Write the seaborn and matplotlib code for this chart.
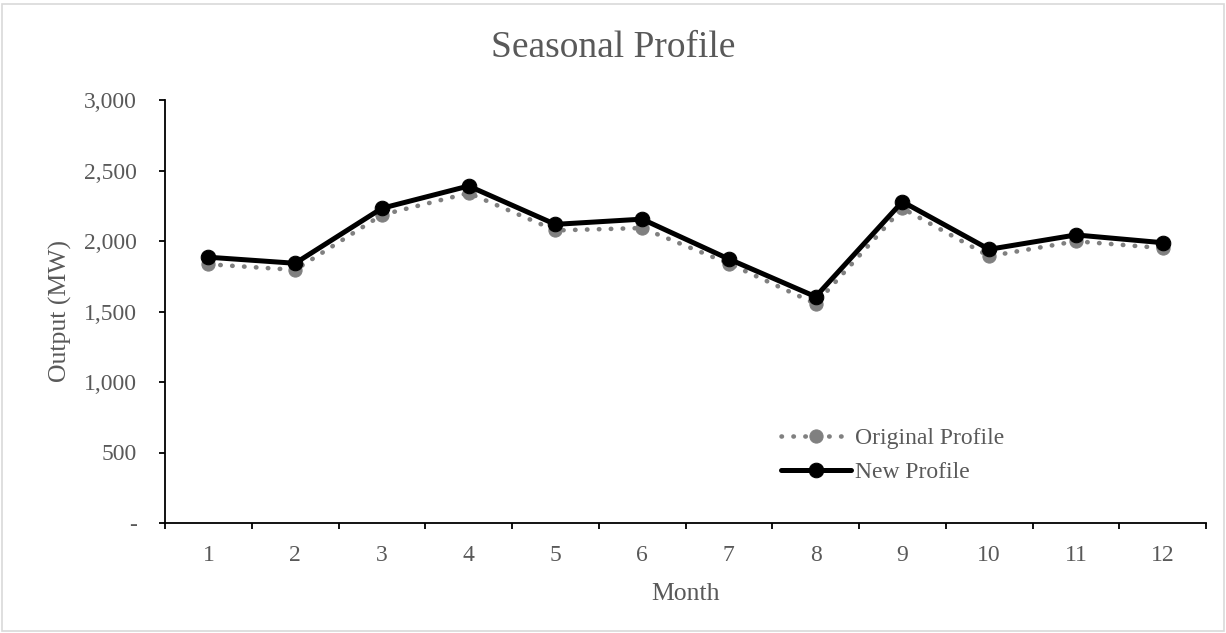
import matplotlib
matplotlib.use("Agg")
import matplotlib.pyplot as plt
import seaborn as sns
import numpy as np
from matplotlib.ticker import FuncFormatter, FixedLocator
from matplotlib.patches import Rectangle

months = [1, 2, 3, 4, 5, 6, 7, 8, 9, 10, 11, 12]
original_profile = [1835, 1795, 2185, 2340, 2075, 2092, 1840, 1555, 2232, 1892, 1998, 1950]
new_profile = [1885, 1842, 2232, 2390, 2118, 2155, 1872, 1605, 2279, 1941, 2043, 1988]

sns.set_style("white")
plt.rcParams['font.family'] = ['Liberation Serif', 'DejaVu Serif']
text_col = '#595959'

fig = plt.figure(figsize=(12.26, 6.33), dpi=100)
ax = fig.add_axes([165 / 1226, 1 - 523 / 633, 1041 / 1226, 423 / 633])

# chart border
fig.patches.append(Rectangle((0.002, 0.003), 0.996, 0.991, transform=fig.transFigure,
                             fill=False, edgecolor='#d9d9d9', linewidth=1.2))

sns.lineplot(x=months, y=original_profile, ax=ax, color='#808080', linewidth=3.3,
             linestyle=(0, (0.1, 2.5)), dash_capstyle='round', marker='o',
             markersize=9.5, markeredgecolor='#808080', label='Original Profile')
sns.lineplot(x=months, y=new_profile, ax=ax, color='black', linewidth=3.6,
             marker='o', markersize=10.5, markeredgecolor='black', label='New Profile')

ax.set_xlim(0.5, 12.5)
ax.set_ylim(0, 3000)
ax.set_xticks(months)
ax.set_xticklabels([str(m) for m in months])
ax.xaxis.set_minor_locator(FixedLocator(np.arange(0.5, 13, 1)))
ax.tick_params(axis='x', which='major', length=0, pad=16, labelsize=17, labelcolor=text_col)
ax.tick_params(axis='x', which='minor', length=4.5, width=1.3, color='black', direction='out', bottom=True)
ax.set_yticks(np.arange(0, 3001, 500))
ax.yaxis.set_major_formatter(FuncFormatter(lambda v, p: '-' if v == 0 else f'{int(v):,}'))
ax.tick_params(axis='y', which='major', length=4.5, width=1.3, color='black', direction='out',
               left=True, pad=15.5, labelsize=17, labelcolor=text_col)

for s in ['top', 'right']:
    ax.spines[s].set_visible(False)
for s in ['left', 'bottom']:
    ax.spines[s].set_color('black')
    ax.spines[s].set_linewidth(1.3)

ax.set_xlabel('Month', fontsize=18.5, color=text_col, labelpad=12)
ax.set_ylabel('Output (MW)', fontsize=18.5, color=text_col, labelpad=9)
fig.text(0.5, 1 - 48 / 633, 'Seasonal Profile', ha='center', va='center',
         fontsize=27, color=text_col)

leg = ax.legend(loc='center left', bbox_to_anchor=(0.58, 0.16), frameon=False,
                fontsize=17, handlelength=3.0, handletextpad=0.15, labelspacing=0.55,
                borderpad=0)
for t in leg.get_texts():
    t.set_color(text_col)

fig.savefig('out.png', dpi=100)
